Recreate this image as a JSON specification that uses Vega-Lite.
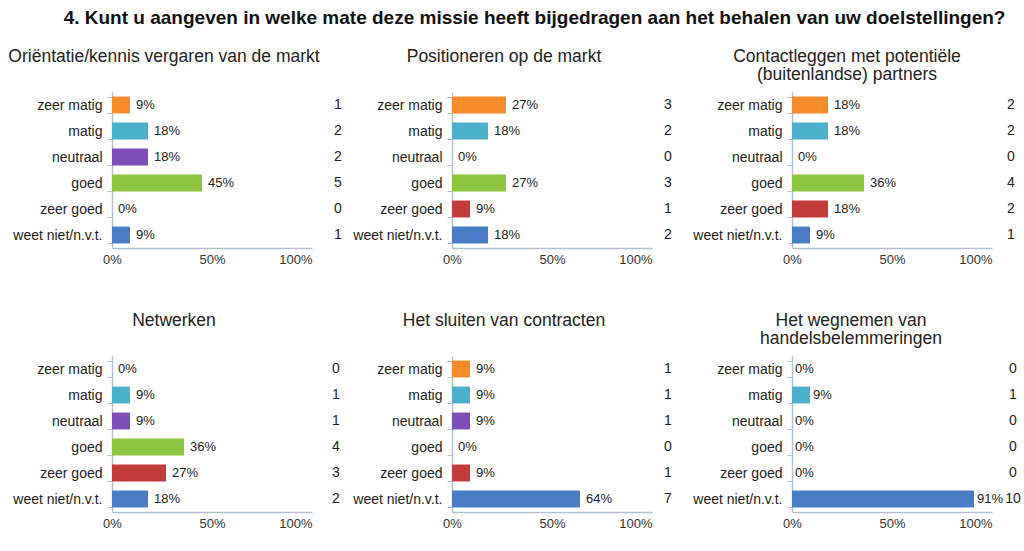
{
  "$schema": "https://vega.github.io/schema/vega-lite/v6.json",
  "padding": {"left": 8, "top": 8, "right": 2, "bottom": 4},
  "background": "white",
  "config": {
    "font": "Liberation Sans",
    "view": {"stroke": null},
    "title": {"font": "Liberation Sans", "fontSize": 17.5, "fontWeight": "normal", "color": "#222222", "anchor": "middle", "lineHeight": 18},
    "axisY": {"title": null, "domainColor": "#b4c0d2", "domainWidth": 1.5, "tickColor": "#b4c0d2", "tickBand": "extent", "tickSize": 5, "labelFontSize": 14, "labelColor": "#222222", "labelPadding": 5},
    "text": {"font": "Liberation Sans", "color": "#222222"}
  },
  "title": {"text": "4. Kunt u aangeven in welke mate deze missie heeft bijgedragen aan het behalen van uw doelstellingen?", "fontSize": 19, "fontWeight": "bold", "color": "#111111", "offset": 20, "dx": 20},
  "datasets": {
    "d": [
      {"p": 1, "cat": "zeer matig", "pct": 0.09, "n": 1},
      {"p": 1, "cat": "matig", "pct": 0.18, "n": 2},
      {"p": 1, "cat": "neutraal", "pct": 0.18, "n": 2},
      {"p": 1, "cat": "goed", "pct": 0.45, "n": 5},
      {"p": 1, "cat": "zeer goed", "pct": 0, "n": 0},
      {"p": 1, "cat": "weet niet/n.v.t.", "pct": 0.09, "n": 1},
      {"p": 2, "cat": "zeer matig", "pct": 0.27, "n": 3},
      {"p": 2, "cat": "matig", "pct": 0.18, "n": 2},
      {"p": 2, "cat": "neutraal", "pct": 0, "n": 0},
      {"p": 2, "cat": "goed", "pct": 0.27, "n": 3},
      {"p": 2, "cat": "zeer goed", "pct": 0.09, "n": 1},
      {"p": 2, "cat": "weet niet/n.v.t.", "pct": 0.18, "n": 2},
      {"p": 3, "cat": "zeer matig", "pct": 0.18, "n": 2},
      {"p": 3, "cat": "matig", "pct": 0.18, "n": 2},
      {"p": 3, "cat": "neutraal", "pct": 0, "n": 0},
      {"p": 3, "cat": "goed", "pct": 0.36, "n": 4},
      {"p": 3, "cat": "zeer goed", "pct": 0.18, "n": 2},
      {"p": 3, "cat": "weet niet/n.v.t.", "pct": 0.09, "n": 1},
      {"p": 4, "cat": "zeer matig", "pct": 0, "n": 0},
      {"p": 4, "cat": "matig", "pct": 0.09, "n": 1},
      {"p": 4, "cat": "neutraal", "pct": 0.09, "n": 1},
      {"p": 4, "cat": "goed", "pct": 0.36, "n": 4},
      {"p": 4, "cat": "zeer goed", "pct": 0.27, "n": 3},
      {"p": 4, "cat": "weet niet/n.v.t.", "pct": 0.18, "n": 2},
      {"p": 5, "cat": "zeer matig", "pct": 0.09, "n": 1},
      {"p": 5, "cat": "matig", "pct": 0.09, "n": 1},
      {"p": 5, "cat": "neutraal", "pct": 0.09, "n": 1},
      {"p": 5, "cat": "goed", "pct": 0, "n": 0},
      {"p": 5, "cat": "zeer goed", "pct": 0.09, "n": 1},
      {"p": 5, "cat": "weet niet/n.v.t.", "pct": 0.64, "n": 7},
      {"p": 6, "cat": "zeer matig", "pct": 0, "n": 0},
      {"p": 6, "cat": "matig", "pct": 0.09, "n": 1},
      {"p": 6, "cat": "neutraal", "pct": 0, "n": 0},
      {"p": 6, "cat": "goed", "pct": 0, "n": 0},
      {"p": 6, "cat": "zeer goed", "pct": 0, "n": 0},
      {"p": 6, "cat": "weet niet/n.v.t.", "pct": 0.91, "n": 10}
    ]
  },
  "concat": [
    {
      "width": 200, "height": 156,
      "title": {"text": "Oriëntatie/kennis vergaren van de markt", "offset": 20, "dx": -48},
      "data": {"name": "d"},
      "transform": [{"filter": "datum.p == 1"}],
      "encoding": {"y": {"field": "cat", "type": "nominal", "sort": ["zeer matig", "matig", "neutraal", "goed", "zeer goed", "weet niet/n.v.t."], "scale": {"paddingInner": 0.35, "paddingOuter": 0.175}}},
      "layer": [
        {"mark": {"type": "bar"}, "encoding": {"x": {"field": "pct", "type": "quantitative", "scale": {"domain": [0, 1], "nice": false}, "axis": {"values": [0, 0.5, 1], "format": "%", "ticks": false, "grid": false, "domainColor": "#b4c0d2", "domainWidth": 1.5, "labelFontSize": 13, "labelColor": "#333333", "labelPadding": 5, "labelFlush": false, "labelAlign": {"condition": {"test": "datum.value == 1", "value": "right"}, "value": "center"}, "title": null}}, "color": {"field": "cat", "type": "nominal", "scale": {"domain": ["zeer matig", "matig", "neutraal", "goed", "zeer goed", "weet niet/n.v.t."], "range": ["#f58a2a", "#4bb0cc", "#7d4db8", "#8cc63f", "#c33b3c", "#4a7cc6"]}, "legend": null}}},
        {"mark": {"type": "text", "align": "left", "dx": 6, "fontSize": 13}, "encoding": {"x": {"field": "pct", "type": "quantitative"}, "text": {"field": "pct", "type": "quantitative", "format": ".0%"}}},
        {"mark": {"type": "text", "align": "center", "fontSize": 14}, "encoding": {"x": {"datum": 1.13, "type": "quantitative"}, "text": {"field": "n", "type": "quantitative"}}}
      ]
    },
    {
      "width": 200, "height": 156,
      "title": {"text": "Positioneren op de markt", "offset": 20, "dx": -48},
      "data": {"name": "d"},
      "transform": [{"filter": "datum.p == 2"}],
      "encoding": {"y": {"field": "cat", "type": "nominal", "sort": ["zeer matig", "matig", "neutraal", "goed", "zeer goed", "weet niet/n.v.t."], "scale": {"paddingInner": 0.35, "paddingOuter": 0.175}}},
      "layer": [
        {"mark": {"type": "bar"}, "encoding": {"x": {"field": "pct", "type": "quantitative", "scale": {"domain": [0, 1], "nice": false}, "axis": {"values": [0, 0.5, 1], "format": "%", "ticks": false, "grid": false, "domainColor": "#b4c0d2", "domainWidth": 1.5, "labelFontSize": 13, "labelColor": "#333333", "labelPadding": 5, "labelFlush": false, "labelAlign": {"condition": {"test": "datum.value == 1", "value": "right"}, "value": "center"}, "title": null}}, "color": {"field": "cat", "type": "nominal", "scale": {"domain": ["zeer matig", "matig", "neutraal", "goed", "zeer goed", "weet niet/n.v.t."], "range": ["#f58a2a", "#4bb0cc", "#7d4db8", "#8cc63f", "#c33b3c", "#4a7cc6"]}, "legend": null}}},
        {"mark": {"type": "text", "align": "left", "dx": 6, "fontSize": 13}, "encoding": {"x": {"field": "pct", "type": "quantitative"}, "text": {"field": "pct", "type": "quantitative", "format": ".0%"}}},
        {"mark": {"type": "text", "align": "center", "fontSize": 14}, "encoding": {"x": {"datum": 1.08, "type": "quantitative"}, "text": {"field": "n", "type": "quantitative"}}}
      ]
    },
    {
      "width": 200, "height": 156,
      "title": {"text": ["Contactleggen met potentiële", "(buitenlandse) partners"], "offset": 2, "dx": -45},
      "data": {"name": "d"},
      "transform": [{"filter": "datum.p == 3"}],
      "encoding": {"y": {"field": "cat", "type": "nominal", "sort": ["zeer matig", "matig", "neutraal", "goed", "zeer goed", "weet niet/n.v.t."], "scale": {"paddingInner": 0.35, "paddingOuter": 0.175}}},
      "layer": [
        {"mark": {"type": "bar"}, "encoding": {"x": {"field": "pct", "type": "quantitative", "scale": {"domain": [0, 1], "nice": false}, "axis": {"values": [0, 0.5, 1], "format": "%", "ticks": false, "grid": false, "domainColor": "#b4c0d2", "domainWidth": 1.5, "labelFontSize": 13, "labelColor": "#333333", "labelPadding": 5, "labelFlush": false, "labelAlign": {"condition": {"test": "datum.value == 1", "value": "right"}, "value": "center"}, "title": null}}, "color": {"field": "cat", "type": "nominal", "scale": {"domain": ["zeer matig", "matig", "neutraal", "goed", "zeer goed", "weet niet/n.v.t."], "range": ["#f58a2a", "#4bb0cc", "#7d4db8", "#8cc63f", "#c33b3c", "#4a7cc6"]}, "legend": null}}},
        {"mark": {"type": "text", "align": "left", "dx": 6, "fontSize": 13}, "encoding": {"x": {"field": "pct", "type": "quantitative"}, "text": {"field": "pct", "type": "quantitative", "format": ".0%"}}},
        {"mark": {"type": "text", "align": "center", "fontSize": 14}, "encoding": {"x": {"datum": 1.095, "type": "quantitative"}, "text": {"field": "n", "type": "quantitative"}}}
      ]
    },
    {
      "width": 200, "height": 156,
      "title": {"text": "Netwerken", "offset": 20, "dx": -38},
      "data": {"name": "d"},
      "transform": [{"filter": "datum.p == 4"}],
      "encoding": {"y": {"field": "cat", "type": "nominal", "sort": ["zeer matig", "matig", "neutraal", "goed", "zeer goed", "weet niet/n.v.t."], "scale": {"paddingInner": 0.35, "paddingOuter": 0.175}}},
      "layer": [
        {"mark": {"type": "bar"}, "encoding": {"x": {"field": "pct", "type": "quantitative", "scale": {"domain": [0, 1], "nice": false}, "axis": {"values": [0, 0.5, 1], "format": "%", "ticks": false, "grid": false, "domainColor": "#b4c0d2", "domainWidth": 1.5, "labelFontSize": 13, "labelColor": "#333333", "labelPadding": 5, "labelFlush": false, "labelAlign": {"condition": {"test": "datum.value == 1", "value": "right"}, "value": "center"}, "title": null}}, "color": {"field": "cat", "type": "nominal", "scale": {"domain": ["zeer matig", "matig", "neutraal", "goed", "zeer goed", "weet niet/n.v.t."], "range": ["#f58a2a", "#4bb0cc", "#7d4db8", "#8cc63f", "#c33b3c", "#4a7cc6"]}, "legend": null}}},
        {"mark": {"type": "text", "align": "left", "dx": 6, "fontSize": 13}, "encoding": {"x": {"field": "pct", "type": "quantitative"}, "text": {"field": "pct", "type": "quantitative", "format": ".0%"}}},
        {"mark": {"type": "text", "align": "center", "fontSize": 14}, "encoding": {"x": {"datum": 1.12, "type": "quantitative"}, "text": {"field": "n", "type": "quantitative"}}}
      ]
    },
    {
      "width": 200, "height": 156,
      "title": {"text": "Het sluiten van contracten", "offset": 20, "dx": -48},
      "data": {"name": "d"},
      "transform": [{"filter": "datum.p == 5"}],
      "encoding": {"y": {"field": "cat", "type": "nominal", "sort": ["zeer matig", "matig", "neutraal", "goed", "zeer goed", "weet niet/n.v.t."], "scale": {"paddingInner": 0.35, "paddingOuter": 0.175}}},
      "layer": [
        {"mark": {"type": "bar"}, "encoding": {"x": {"field": "pct", "type": "quantitative", "scale": {"domain": [0, 1], "nice": false}, "axis": {"values": [0, 0.5, 1], "format": "%", "ticks": false, "grid": false, "domainColor": "#b4c0d2", "domainWidth": 1.5, "labelFontSize": 13, "labelColor": "#333333", "labelPadding": 5, "labelFlush": false, "labelAlign": {"condition": {"test": "datum.value == 1", "value": "right"}, "value": "center"}, "title": null}}, "color": {"field": "cat", "type": "nominal", "scale": {"domain": ["zeer matig", "matig", "neutraal", "goed", "zeer goed", "weet niet/n.v.t."], "range": ["#f58a2a", "#4bb0cc", "#7d4db8", "#8cc63f", "#c33b3c", "#4a7cc6"]}, "legend": null}}},
        {"mark": {"type": "text", "align": "left", "dx": 6, "fontSize": 13}, "encoding": {"x": {"field": "pct", "type": "quantitative"}, "text": {"field": "pct", "type": "quantitative", "format": ".0%"}}},
        {"mark": {"type": "text", "align": "center", "fontSize": 14}, "encoding": {"x": {"datum": 1.08, "type": "quantitative"}, "text": {"field": "n", "type": "quantitative"}}}
      ]
    },
    {
      "width": 200, "height": 156,
      "title": {"text": ["Het wegnemen van", "handelsbelemmeringen"], "offset": 2, "dx": -41},
      "data": {"name": "d"},
      "transform": [{"filter": "datum.p == 6"}],
      "encoding": {"y": {"field": "cat", "type": "nominal", "sort": ["zeer matig", "matig", "neutraal", "goed", "zeer goed", "weet niet/n.v.t."], "scale": {"paddingInner": 0.35, "paddingOuter": 0.175}}},
      "layer": [
        {"mark": {"type": "bar"}, "encoding": {"x": {"field": "pct", "type": "quantitative", "scale": {"domain": [0, 1], "nice": false}, "axis": {"values": [0, 0.5, 1], "format": "%", "ticks": false, "grid": false, "domainColor": "#b4c0d2", "domainWidth": 1.5, "labelFontSize": 13, "labelColor": "#333333", "labelPadding": 5, "labelFlush": false, "labelAlign": {"condition": {"test": "datum.value == 1", "value": "right"}, "value": "center"}, "title": null}}, "color": {"field": "cat", "type": "nominal", "scale": {"domain": ["zeer matig", "matig", "neutraal", "goed", "zeer goed", "weet niet/n.v.t."], "range": ["#f58a2a", "#4bb0cc", "#7d4db8", "#8cc63f", "#c33b3c", "#4a7cc6"]}, "legend": null}}},
        {"mark": {"type": "text", "align": "left", "dx": 3, "fontSize": 13}, "encoding": {"x": {"field": "pct", "type": "quantitative"}, "text": {"field": "pct", "type": "quantitative", "format": ".0%"}}},
        {"mark": {"type": "text", "align": "center", "fontSize": 14}, "encoding": {"x": {"datum": 1.105, "type": "quantitative"}, "text": {"field": "n", "type": "quantitative"}}}
      ]
    }
  ],
  "columns": 3,
  "spacing": {"row": 108, "column": 140},
  "bounds": "flush"
}
